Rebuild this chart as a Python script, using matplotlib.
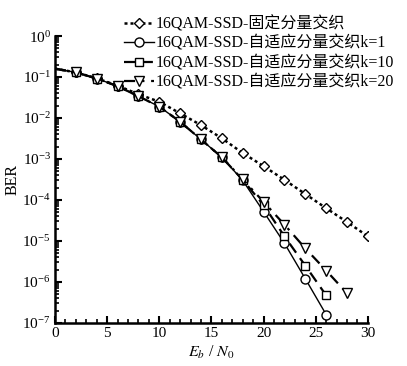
import numpy as np
import matplotlib
matplotlib.use("Agg")
import matplotlib.pyplot as plt

plt.rcParams['font.family'] = ['Liberation Serif', 'Noto Sans CJK SC', 'DejaVu Sans']
plt.rcParams['mathtext.fontset'] = 'stix'

# Eb/N0 values and BER curves
snr_fixed = [0, 2, 4, 6, 8, 10, 12, 14, 16, 18, 20, 22, 24, 26, 28, 30]
ber_fixed = [0.16, 0.13, 0.093, 0.062, 0.038, 0.025, 0.013, 6.7e-3, 3.2e-3,
             1.4e-3, 6.7e-4, 3.1e-4, 1.4e-4, 6.3e-5, 2.9e-5, 1.3e-5]

snr_k1 = [0, 2, 4, 6, 8, 10, 12, 14, 16, 18, 20, 22, 24, 26]
ber_k1 = [0.16, 0.13, 0.092, 0.06, 0.034, 0.019, 8.1e-3, 3.0e-3, 1.1e-3,
          3.0e-4, 5.2e-5, 8.8e-6, 1.2e-6, 1.6e-7]

snr_k10 = [0, 2, 4, 6, 8, 10, 12, 14, 16, 18, 20, 22, 24, 26]
ber_k10 = [0.16, 0.13, 0.092, 0.06, 0.034, 0.019, 8.1e-3, 3.0e-3, 1.1e-3,
           3.1e-4, 7.5e-5, 1.3e-5, 2.5e-6, 4.7e-7]

snr_k20 = [0, 2, 4, 6, 8, 10, 12, 14, 16, 18, 20, 22, 24, 26, 28]
ber_k20 = [0.16, 0.13, 0.092, 0.06, 0.034, 0.019, 8.1e-3, 3.0e-3, 1.1e-3,
           3.2e-4, 9.0e-5, 2.5e-5, 6.6e-6, 1.9e-6, 5.3e-7]

labels = ['16QAM-SSD-固定分量交织',
          '16QAM-SSD-自适应分量交织k=1',
          '16QAM-SSD-自适应分量交织k=10',
          '16QAM-SSD-自适应分量交织k=20']

fig = plt.figure(figsize=(4.07, 3.66), dpi=100)
ax = fig.add_axes([0.135, 0.1175, 0.769, 0.784])

mk = dict(markerfacecolor='white', markeredgecolor='black', markeredgewidth=1.0,
          markevery=slice(1, None), color='black')

ax.plot(snr_fixed, ber_fixed, linestyle=(0, (1.2, 1.2)), linewidth=1.8, marker='D',
        markersize=5.5, label=labels[0], **mk)
ax.plot(snr_k1, ber_k1, linestyle='-', linewidth=1.0, marker='o',
        markersize=6.5, label=labels[1], **mk)
ax.plot(snr_k10, ber_k10, linestyle=(0, (5, 3)), linewidth=1.6, marker='s',
        markersize=6, label=labels[2], **mk)
ax.plot(snr_k20, ber_k20, linestyle=(0, (5, 3, 1.2, 3)), linewidth=1.6, marker='v',
        markersize=7, label=labels[3], **mk)

ax.set_yscale('log')
ax.set_xlim(0, 30)
ax.set_ylim(1e-7, 1)
ax.set_xticks([0, 5, 10, 15, 20, 25, 30])
ax.set_xticks(np.arange(0, 31, 1), minor=True)
ax.set_yticks([1e0, 1e-1, 1e-2, 1e-3, 1e-4, 1e-5, 1e-6, 1e-7])

for side in ['top', 'right']:
    ax.spines[side].set_visible(False)
for side in ['left', 'bottom']:
    ax.spines[side].set_linewidth(1.8)

ax.tick_params(which='major', direction='in', length=5, width=1.5, labelsize=11, pad=3)
ax.tick_params(which='minor', direction='in', length=3, width=1.2)

ax.set_xlabel('$E_b$ / $N_0$', fontsize=11.5, labelpad=3)
ax.set_ylabel('BER', fontsize=11.5, labelpad=1)

leg = fig.legend(loc='upper left', bbox_to_anchor=(0.305, 0.957),
                 bbox_transform=fig.transFigure, frameon=False,
                 fontsize=11.5, handlelength=1.9, handletextpad=0.1,
                 labelspacing=0.22, borderpad=0, borderaxespad=0)

fig.savefig('out.png', dpi=100)
